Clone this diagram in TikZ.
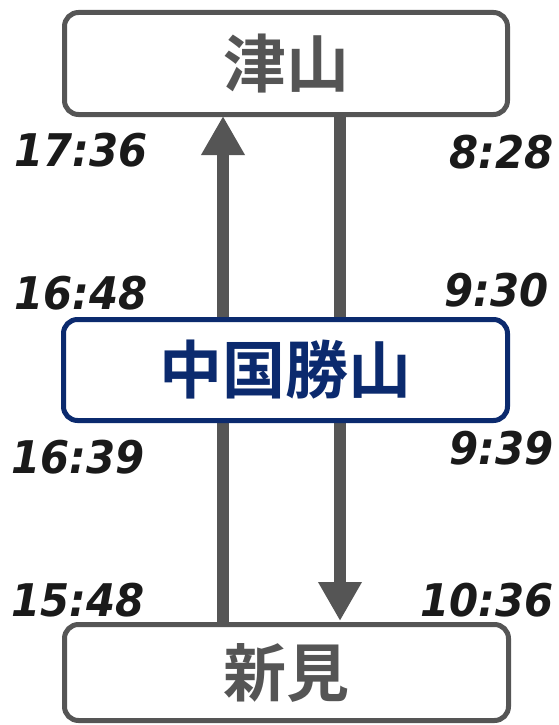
\documentclass[tikz,border=0pt]{standalone}
\usepackage{fontspec}
\usetikzlibrary{arrows.meta}
\newfontfamily\jp{Noto Sans CJK JP Bold}
\newfontfamily\tmf{DejaVu Sans}[FakeStretch=0.93]
\definecolor{gr}{HTML}{555555}
\definecolor{navy}{HTML}{0B2A6E}
\definecolor{tx}{HTML}{1A1A1A}
\tikzset{
  station/.style={draw=gr, line width=5pt, rounded corners=14pt, fill=white, inner sep=0pt,
    text=gr, font=\jp\fontsize{63}{63}\selectfont},
  mainstation/.style={station, draw=navy, text=navy},
  route/.style={draw=gr, line width=12pt, -{Triangle[width=41pt,length=39pt]}},
  timel/.style={text=tx, inner sep=0pt, font=\tmf\bfseries\itshape\fontsize{45}{45}\selectfont},
}
\begin{document}
\begin{tikzpicture}[x=1pt,y=-1pt]
\useasboundingbox (0,0) rectangle (558,725);
\coordinate (lb) at (223,622);
\coordinate (lt) at (223,116);
\coordinate (rt) at (340,117);
\coordinate (rb) at (340,621);
\draw[route] (lb) -- (lt);
\draw[route] (rt) -- (rb);
\node[station, minimum width=443pt, minimum height=102pt] (tsuyama) at (286,63.5) {津山};
\node[mainstation, minimum width=444pt, minimum height=101pt] (katsuyama) at (285.5,370) {中国勝山};
\node[station, minimum width=444pt, minimum height=96pt] (niimi) at (286.5,672.5) {新見};
\node[timel, anchor=west] (t1) at (14,150) {17:36};
\node[timel, anchor=east] (t2) at (554,152) {8:28};
\node[timel, anchor=west] (t3) at (14,293) {16:48};
\node[timel, anchor=east] (t4) at (549,290) {9:30};
\node[timel, anchor=west] (t5) at (11,457) {16:39};
\node[timel, anchor=east] (t6) at (554,448) {9:39};
\node[timel, anchor=west] (t7) at (11,600) {15:48};
\node[timel, anchor=east] (t8) at (554,600) {10:36};
\end{tikzpicture}
\end{document}
